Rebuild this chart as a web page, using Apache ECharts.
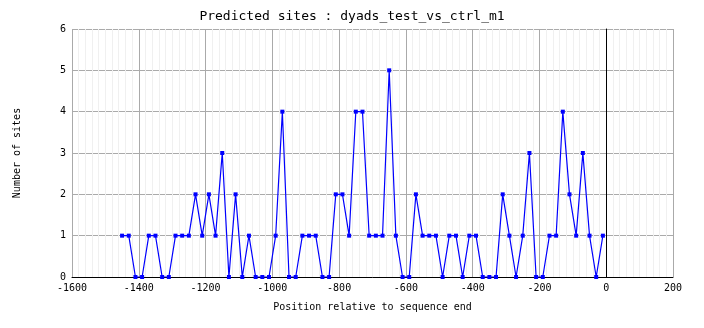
<!DOCTYPE html>
<html>
<head>
<meta charset="utf-8">
<script src="https://cdn.jsdelivr.net/npm/echarts@6/dist/echarts.min.js"></script>
<style>
html,body{margin:0;padding:0;background:#fff;}
#chart{width:704px;height:328px;}
</style>
</head>
<body>
<div id="chart"></div>
<script>
const titleText = "Predicted sites : dyads_test_vs_ctrl_m1";
const xAxisName = "Position relative to sequence end";
const yAxisName = "Number of sites";
const positions = [-1450,-1430,-1410,-1390,-1370,-1350,-1330,-1310,-1290,-1270,-1250,-1230,-1210,-1190,-1170,-1150,-1130,-1110,-1090,-1070,-1050,-1030,-1010,-990,-970,-950,-930,-910,-890,-870,-850,-830,-810,-790,-770,-750,-730,-710,-690,-670,-650,-630,-610,-590,-570,-550,-530,-510,-490,-470,-450,-430,-410,-390,-370,-350,-330,-310,-290,-270,-250,-230,-210,-190,-170,-150,-130,-110,-90,-70,-50,-30,-10];
const sites = [1,1,0,0,1,1,0,0,1,1,1,2,1,2,1,3,0,2,0,1,0,0,0,1,4,0,0,1,1,1,0,0,2,2,1,4,4,1,1,1,5,1,0,0,2,1,1,1,0,1,1,0,1,1,0,0,0,2,1,0,1,3,0,0,1,1,4,2,1,3,1,0,1];
const sequenceEnd = 0;

const font = "DejaVu Sans Mono";
const chart = echarts.init(document.getElementById('chart'), null, {renderer:'canvas'});
chart.setOption({
  backgroundColor:'#ffffff',
  animation:false,
  title:{text:titleText,left:'center',top:5,textStyle:{fontFamily:font,fontSize:13,fontWeight:'normal',color:'#000'}},
  grid:{left:72,right:31,top:29,bottom:51,containLabel:false},
  xAxis:{
    type:'value',min:-1600,max:200,interval:200,
    name:xAxisName,nameLocation:'middle',nameGap:25,
    nameTextStyle:{fontFamily:font,fontSize:10,color:'#000'},
    axisLine:{show:true,onZero:false,lineStyle:{color:'#000',width:1}},
    axisTick:{show:false},
    axisLabel:{fontFamily:font,fontSize:10,color:'#000',margin:6,formatter:v=>String(v)},
    splitLine:{show:true,lineStyle:{color:'#aaaaaa',width:1}},
    minorTick:{show:false,splitNumber:10},
    minorSplitLine:{show:true,lineStyle:{color:'#f0f0f0',width:1}}
  },
  yAxis:{
    type:'value',min:0,max:6,interval:1,
    name:yAxisName,nameLocation:'middle',nameGap:50,nameRotate:90,
    nameTextStyle:{fontFamily:font,fontSize:10,color:'#000'},
    axisLine:{show:true,lineStyle:{color:'#000',width:1}},
    axisTick:{show:false},
    axisLabel:{fontFamily:font,fontSize:10,color:'#000',margin:6},
    splitLine:{show:true,lineStyle:{color:'#aaaaaa',width:1}}
  },
  series:[{
    type:'line',
    data:positions.map((p,i)=>[p,sites[i]]),
    symbol:'rect',symbolSize:4,
    lineStyle:{color:'#0000ff',width:1.2},
    itemStyle:{color:'#0000ff'},
    markLine:{
      silent:true,symbol:['none','none'],label:{show:false},
      lineStyle:{color:'#000',width:1,type:'solid'},
      data:[{xAxis:sequenceEnd}]
    }
  }]
});
</script>
</body>
</html>
